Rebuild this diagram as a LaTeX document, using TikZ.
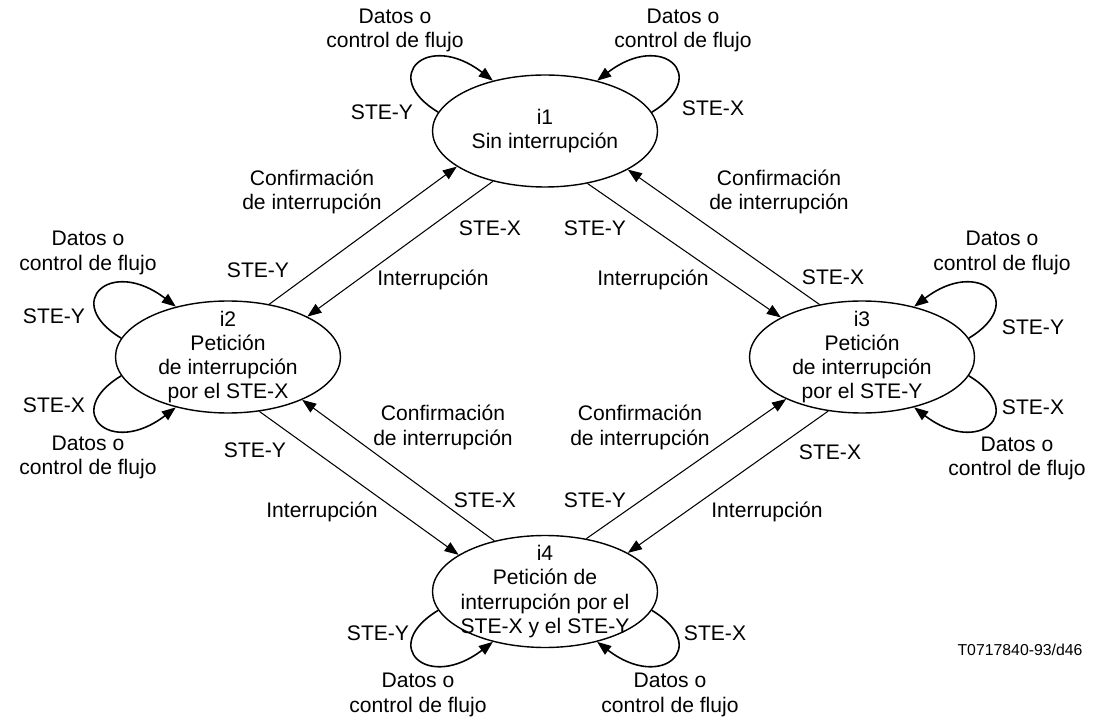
\documentclass[tikz,border=0pt]{standalone}
\usepackage{fontspec}
\setmainfont{Liberation Sans}
\usetikzlibrary{arrows.meta,shapes.geometric}

\begin{document}
\begin{tikzpicture}[
    font=\fontsize{12}{13.8}\selectfont,
    state/.style={ellipse,draw,line width=0.8pt,minimum width=4.5cm,minimum height=2.24cm,inner xsep=-4pt,inner ysep=-8pt,align=center},
    lbl/.style={align=center,inner sep=1pt},
    arr/.style={-{Triangle[length=8pt,width=6pt]},line width=0.6pt},
    selfarc/.style={arr,line width=0.9pt}
  ]
  \useasboundingbox (0,0) rectangle (21.86,14.4);

  % states
  \node[state] (i1) at (10.9,11.78) {i1\\Sin interrupción};
  \node[state] (i2) at (4.56,7.26) {i2\\Petición\\de interrupción\\por el STE-X};
  \node[state] (i3) at (17.24,7.26) {i3\\Petición\\de interrupción\\por el STE-Y};
  \node[state] (i4) at (10.9,2.57) {i4\\Petición de\\interrupción por el\\STE-X y el STE-Y};

  % transitions between states
  \draw[arr] (i2.52) -- (i1.202);
  \draw[arr] (i1.224) -- (i2.27);
  \draw[arr] (i3.129) -- (i1.335);
  \draw[arr] (i1.309) -- (i3.154);
  \draw[arr] (i4.135) -- (i2.330);
  \draw[arr] (i2.300) -- (i4.157);
  \draw[arr] (i4.52) -- (i3.209);
  \draw[arr] (i3.238) -- (i4.25);

  % self loops
  \draw[selfarc] (i1.170) .. controls +(-1.2,0.72) and +(-1.3,1.0) .. (i1.136);
  \draw[selfarc] (i1.10) .. controls +(1.2,0.72) and +(1.3,1.0) .. (i1.44);
  \draw[selfarc] (i2.170) .. controls +(-1.2,0.72) and +(-1.3,1.0) .. (i2.136);
  \draw[selfarc] (i2.190) .. controls +(-1.2,-0.72) and +(-1.3,-1.0) .. (i2.224);
  \draw[selfarc] (i3.10) .. controls +(1.2,0.72) and +(1.3,1.0) .. (i3.44);
  \draw[selfarc] (i3.350) .. controls +(1.2,-0.72) and +(1.3,-1.0) .. (i3.316);
  \draw[selfarc] (i4.190) .. controls +(-1.2,-0.72) and +(-1.3,-1.0) .. (i4.224);
  \draw[selfarc] (i4.350) .. controls +(1.2,-0.72) and +(1.3,-1.0) .. (i4.316);

  % loop labels
  \node[lbl] (i1dl) at (7.9,13.79) {Datos o\\control de flujo};
  \node[lbl] (i1dr) at (13.66,13.79) {Datos o\\control de flujo};
  \node[lbl] (i1sy) at (7.64,12.16) {STE-Y};
  \node[lbl] (i1sx) at (14.26,12.24) {STE-X};
  \node[lbl] (i2du) at (1.76,9.34) {Datos o\\control de flujo};
  \node[lbl] (i2sy) at (1.08,8.08) {STE-Y};
  \node[lbl] (i2sx) at (1.08,6.3) {STE-X};
  \node[lbl] (i2dd) at (1.76,5.25) {Datos o\\control de flujo};
  \node[lbl] (i3du) at (20.04,9.34) {Datos o\\control de flujo};
  \node[lbl] (i3sy) at (20.66,7.86) {STE-Y};
  \node[lbl] (i3sx) at (20.66,6.26) {STE-X};
  \node[lbl] (i3dd) at (20.34,5.23) {Datos o\\control de flujo};
  \node[lbl] (i4sy) at (7.56,1.74) {STE-Y};
  \node[lbl] (i4sx) at (14.3,1.74) {STE-X};
  \node[lbl] (i4dl) at (8.36,0.5) {Datos o\\control de flujo};
  \node[lbl] (i4dr) at (13.4,0.5) {Datos o\\control de flujo};

  % transition labels
  \node[lbl] (c12) at (6.24,10.56) {Confirmación\\de interrupción};
  \node[lbl] (c13) at (15.58,10.56) {Confirmación\\de interrupción};
  \node[lbl] (s12y) at (5.16,9.0) {STE-Y};
  \node[lbl] (s12x) at (9.8,9.84) {STE-X};
  \node[lbl] (r12) at (8.66,8.8) {Interrupción};
  \node[lbl] (s13y) at (11.9,9.84) {STE-Y};
  \node[lbl] (r13) at (13.06,8.8) {Interrupción};
  \node[lbl] (s13x) at (16.66,8.86) {STE-X};
  \node[lbl] (c24) at (8.86,5.85) {Confirmación\\de interrupción};
  \node[lbl] (c34) at (12.8,5.85) {Confirmación\\de interrupción};
  \node[lbl] (s24y) at (5.1,5.4) {STE-Y};
  \node[lbl] (r24) at (6.44,4.16) {Interrupción};
  \node[lbl] (s24x) at (9.7,4.4) {STE-X};
  \node[lbl] (s34y) at (11.9,4.4) {STE-Y};
  \node[lbl] (s34x) at (16.6,5.36) {STE-X};
  \node[lbl] (r34) at (15.34,4.16) {Interrupción};

  \node[lbl,font=\fontsize{9}{10}\selectfont] (ref) at (20.4,1.4) {T0717840-93/d46};
\end{tikzpicture}
\end{document}
